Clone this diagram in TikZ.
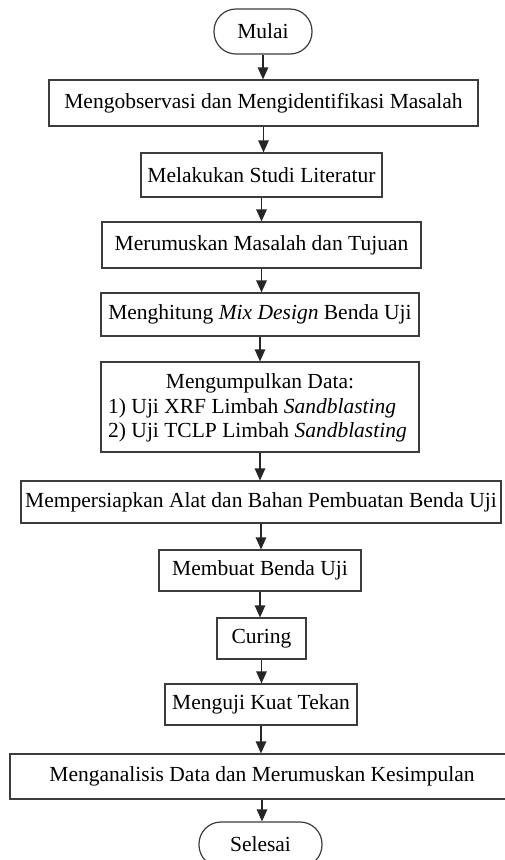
\documentclass[tikz,border=0pt]{standalone}
\usepackage{fontspec}
\setmainfont{Liberation Serif}
\usetikzlibrary{arrows.meta}
\definecolor{linec}{HTML}{3C3C3C}
\begin{document}
\begin{tikzpicture}[x=1pt,y=1pt,
 box/.style={draw=linec, line width=1.2pt, inner sep=0pt, font=\fontsize{21.5}{24}\selectfont, text=black},
 term/.style={box, rounded corners=22pt},
 arr/.style={draw=black!85, line width=1.3pt, -{Triangle[length=12pt,width=10.5pt]}},
 txt/.style={inner sep=0pt, font=\fontsize{21.5}{24}\selectfont}]
\useasboundingbox (0,0) rectangle (504,-860);
\node[term, minimum width=98pt, minimum height=45pt] (start) at (263,-31.5) {Mulai};
\node[box, minimum width=429pt, minimum height=46pt] (b1) at (263.5,-103) {Mengobservasi dan Mengidentifikasi Masalah};
\node[box, minimum width=241pt, minimum height=44pt] (b2) at (261.5,-175) {Melakukan Studi Literatur};
\node[box, minimum width=319pt, minimum height=46pt] (b3) at (261.5,-245) {Merumuskan Masalah dan Tujuan};
\node[box, minimum width=318pt, minimum height=43pt] (b4) at (260,-314.5) {Menghitung \textit{Mix Design} Benda Uji};
\node[box, minimum width=318pt, minimum height=90pt] (b5) at (260,-407) {};
\node[txt, anchor=base] (b5a) at (260,-388) {Mengumpulkan Data:};
\node[txt, anchor=base west] (b5b) at (108,-413) {1) Uji XRF Limbah \textit{Sandblasting}};
\node[txt, anchor=base west] (b5c) at (108,-437.5) {2) Uji TCLP Limbah \textit{Sandblasting}};
\node[box, minimum width=480pt, minimum height=42pt] (b6) at (261,-502) {Mempersiapkan Alat dan Bahan Pembuatan Benda Uji};
\node[box, minimum width=202pt, minimum height=41pt] (b7) at (260,-570.5) {Membuat Benda Uji};
\node[box, minimum width=89pt, minimum height=41pt] (b8) at (261.5,-638.5) {Curing};
\node[box, minimum width=192pt, minimum height=41pt] (b9) at (261,-704.5) {Menguji Kuat Tekan};
\node[box, minimum width=504pt, minimum height=45pt] (b10) at (262,-776.5) {Menganalisis Data dan Merumuskan Kesimpulan};
\node[term, minimum width=123pt, minimum height=45pt] (end) at (260.5,-844.5) {Selesai};
\draw[arr] (start.south) -- (start.south |- b1.north);
\draw[arr] (b1.south) -- (b1.south |- b2.north);
\draw[arr] (b2.south) -- (b2.south |- b3.north);
\draw[arr] (b3.south) -- (b3.south |- b4.north);
\draw[arr] (b4.south) -- (b4.south |- b5.north);
\draw[arr] (b5.south) -- (b5.south |- b6.north);
\draw[arr] (b6.south) -- (b6.south |- b7.north);
\draw[arr] (b7.south) -- (b7.south |- b8.north);
\draw[arr] (b8.south) -- (b8.south |- b9.north);
\draw[arr] (b9.south) -- (b9.south |- b10.north);
\draw[arr] (b10.south) -- (b10.south |- end.north);
\end{tikzpicture}
\end{document}
